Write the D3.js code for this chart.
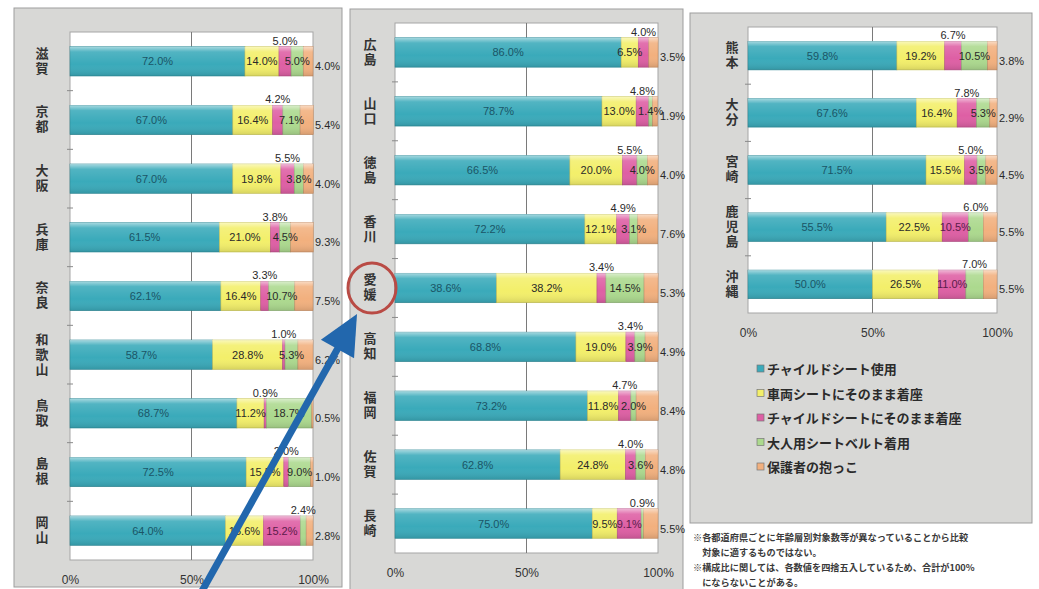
<!DOCTYPE html>
<html>
<head>
<meta charset="utf-8">
<script src="https://cdn.jsdelivr.net/npm/d3@7"></script>
<style>
 body { margin: 0; background: #ffffff; }
 svg { display: block; }
</style>
</head>
<body>
<div id="chart"></div>
<script>
// series (legend order = stack order)
var seriesNames = ["チャイルドシート使用", "車両シートにそのまま着座", "チャイルドシートにそのまま着座", "大人用シートベルト着用", "保護者の抱っこ"];
var seriesColors = ["#3aaaba", "#f3ef6a", "#de5fa4", "#acd98e", "#f2b07e"];

// left panel
var prefsA = ["滋賀", "京都", "大阪", "兵庫", "奈良", "和歌山", "鳥取", "島根", "岡山"];
var valuesA = [
 [72.0, 67.0, 67.0, 61.5, 62.1, 58.7, 68.7, 72.5, 64.0],
 [14.0, 16.4, 19.8, 21.0, 16.4, 28.8, 11.2, 15.5, 15.6],
 [5.0, 4.2, 5.5, 3.8, 3.3, 1.0, 0.9, 2.0, 15.2],
 [5.0, 7.1, 3.8, 4.5, 10.7, 5.3, 18.7, 9.0, 2.4],
 [4.0, 5.4, 4.0, 9.3, 7.5, 6.2, 0.5, 1.0, 2.8]
];

// middle panel
var prefsB = ["広島", "山口", "徳島", "香川", "愛媛", "高知", "福岡", "佐賀", "長崎"];
var valuesB = [
 [86.0, 78.7, 66.5, 72.2, 38.6, 68.8, 73.2, 62.8, 75.0],
 [6.5, 13.0, 20.0, 12.1, 38.2, 19.0, 11.8, 24.8, 9.5],
 [4.0, 4.8, 5.5, 4.9, 3.4, 3.4, 4.7, 4.0, 9.1],
 [0.0, 1.4, 4.0, 3.1, 14.5, 3.9, 2.0, 3.6, 0.9],
 [3.5, 1.9, 4.0, 7.6, 5.3, 4.9, 8.4, 4.8, 5.5]
];

// right panel
var prefsC = ["熊本", "大分", "宮崎", "鹿児島", "沖縄"];
var valuesC = [
 [59.8, 67.6, 71.5, 55.5, 50.0],
 [19.2, 16.4, 15.5, 22.5, 26.5],
 [6.7, 7.8, 5.0, 10.5, 11.0],
 [10.5, 5.3, 3.5, 6.0, 7.0],
 [3.8, 2.9, 4.5, 5.5, 5.5]
];

var tickValues = [0, 50, 100];
var tickLabels = ["0%", "50%", "100%"];

var footnotes = [
 "※各都道府県ごとに年齢層別対象数等が異なっていることから比較",
 "　対象に適するものではない。",
 "※構成比に関しては、各数値を四捨五入しているため、合計が100%",
 "　にならないことがある。"
];

var width = 1039, height = 589;
var numFont = "'Liberation Sans', Arial, sans-serif";
var jpFont = "'Noto Sans CJK JP', sans-serif";

var svg = d3.select("#chart").append("svg").attr("width", width).attr("height", height);

var defs = svg.append("defs");
var gloss = defs.append("linearGradient").attr("id", "gloss").attr("x1", 0).attr("y1", 0).attr("x2", 0).attr("y2", 1);
gloss.append("stop").attr("offset", "0").attr("stop-color", "#fff").attr("stop-opacity", 0.55);
gloss.append("stop").attr("offset", "0.18").attr("stop-color", "#fff").attr("stop-opacity", 0.12);
gloss.append("stop").attr("offset", "0.6").attr("stop-color", "#fff").attr("stop-opacity", 0);
gloss.append("stop").attr("offset", "1").attr("stop-color", "#000").attr("stop-opacity", 0.12);

//Panel layouts (pixel boxes of the scanned page).
var panels = [
 { prefs: prefsA, values: valuesA, box: [14, 8, 328, 579], plot: [70, 313, 32, 560], labelX: 42 },
 { prefs: prefsB, values: valuesB, box: [350, 9, 333, 600], plot: [395, 658, 23, 553], labelX: 370 },
 { prefs: prefsC, values: valuesC, box: [690, 13, 342, 510], plot: [748, 997, 27, 313], labelX: 732 }
];

panels.forEach(function(p, pi)
{
 var g = svg.append("g");

 g.append("rect").attr("x", p.box[0]).attr("y", p.box[1]).attr("width", p.box[2]).attr("height", p.box[3])
  .attr("fill", "#d8d8d6").attr("stroke", "#9d9d9d").attr("stroke-width", 1);

 var x = d3.scaleLinear().domain([0, 100]).range([p.plot[0], p.plot[1]]);
 var y = d3.scaleBand().domain(p.prefs).range([p.plot[2], p.plot[3]]).paddingInner(0.5).paddingOuter(0.25);
 p.y = y;

 //White plot area.
 g.append("rect").attr("x", x(0)).attr("y", p.plot[2]).attr("width", x(100) - x(0)).attr("height", p.plot[3] - p.plot[2])
  .attr("fill", "#ffffff").attr("stroke", "#a5a5a5");

 //50% grid line.
 g.append("line").attr("x1", x(50)).attr("x2", x(50)).attr("y1", p.plot[2]).attr("y2", p.plot[3])
  .attr("stroke", "#7a7a7a").attr("stroke-width", 1);

 //Small ticks between rows.
 var step = y.step();
 d3.range(1, p.prefs.length).forEach(function(i)
 {
  var ty = p.plot[2] + i * step;
  g.append("line").attr("x1", x(0) - 3).attr("x2", x(0) + 3).attr("y1", ty).attr("y2", ty)
   .attr("stroke", "#8a8a8a");
 });

 //Build rows of stacked segments.
 var rows = p.prefs.map(function(name, i)
 {
  var acc = 0;
  var segs = p.values.map(function(vals, s)
  {
   var seg = { s: s, v: vals[i], x0: acc, x1: acc + vals[i] };
   acc += vals[i];
   return seg;
  });
  return { name: name, segs: segs };
 });

 var rowG = g.selectAll("g.row").data(rows).enter().append("g").attr("class", "row");

 rowG.selectAll("rect.seg").data(function(d) { return d.segs; }).enter().append("rect")
  .attr("class", "seg")
  .attr("x", function(d) { return x(d.x0); })
  .attr("y", function(d, i, n) { return y(d3.select(n[i].parentNode).datum().name); })
  .attr("width", function(d) { return Math.max(0, x(d.x1) - x(d.x0)); })
  .attr("height", y.bandwidth())
  .attr("fill", function(d) { return seriesColors[d.s]; })
  .attr("stroke", function(d) { return d.v > 0 ? d3.color(seriesColors[d.s]).darker(0.6) : "none"; })
  .attr("stroke-width", 0.6);

 //Gloss overlay over whole bar.
 rowG.append("rect")
  .attr("x", function(d) { return x(0); })
  .attr("y", function(d) { return y(d.name); })
  .attr("width", function(d) { return x(d3.sum(d.segs, function(s) { return s.v; })) - x(0); })
  .attr("height", y.bandwidth())
  .attr("fill", "url(#gloss)");

 //Value labels.
 rowG.each(function(d)
 {
  var r = d3.select(this);
  var top = y(d.name), mid = top + y.bandwidth() / 2;
  var pinkBig = d.segs[2].v >= 9;
  d.segs.forEach(function(seg)
  {
   if (seg.v <= 0) return;
   var cx = x((seg.x0 + seg.x1) / 2), ty = mid + 4, anchor = "middle", tx = cx, col = "#2a2a2a";
   if (seg.s === 0) col = "#1b5566";
   if (seg.s === 2 && !pinkBig) ty = top - 2;
   if (seg.s === 2 && pinkBig) col = "#5a1c4a";
   if (seg.s === 3 && pinkBig) ty = top - 2;
   if (seg.s === 4) { tx = x(100) + 2; ty = mid + 9; anchor = "start"; }
   r.append("text").attr("x", tx).attr("y", ty).attr("text-anchor", anchor)
    .attr("font-family", numFont).attr("font-size", 11).attr("fill", col)
    .text(seg.v.toFixed(1) + "%");
  });
 });

 //Vertical prefecture names.
 rowG.append("text")
  .attr("x", p.labelX)
  .attr("y", function(d) { return y(d.name) + y.bandwidth() / 2; })
  .attr("writing-mode", "vertical-rl")
  .style("text-orientation", "upright")
  .attr("text-anchor", "middle")
  .attr("letter-spacing", 2)
  .attr("font-family", jpFont).attr("font-size", 13).attr("font-weight", "bold").attr("fill", "#333")
  .text(function(d) { return d.name; });

 //Bottom axis labels.
 var axis = d3.axisBottom(x).tickValues(tickValues).tickFormat(function(d, i) { return tickLabels[i]; })
  .tickSize(0).tickPadding(15);
 var ax = g.append("g").attr("transform", "translate(0," + p.plot[3] + ")").call(axis);
 ax.select(".domain").remove();
 ax.selectAll("text").attr("font-family", numFont).attr("font-size", 12).attr("fill", "#333");
});

//Legend in right panel.
var legend = svg.append("g").selectAll("g").data(seriesNames).enter().append("g")
 .attr("transform", function(d, i) { return "translate(757," + (369 + i * 24.5) + ")"; });
legend.append("rect").attr("x", 0).attr("y", -4).attr("width", 7).attr("height", 7)
 .attr("fill", function(d, i) { return seriesColors[i]; }).attr("stroke", "#777").attr("stroke-width", 0.7);
legend.append("text").attr("x", 10).attr("y", 5)
 .attr("font-family", jpFont).attr("font-size", 13).attr("font-weight", "bold").attr("fill", "#2b2b2b")
 .text(function(d) { return d; });

//Footnotes.
svg.append("g").selectAll("text").data(footnotes).enter().append("text")
 .attr("x", 693).attr("y", function(d, i) { return 541 + i * 15; })
 .attr("font-family", jpFont).attr("font-size", 9.2).attr("font-weight", "bold").attr("fill", "#3a3a3a")
 .text(function(d) { return d; });

//Red circle around 愛媛 and the blue arrow.
var pB = panels[1];
var cx = pB.labelX + 2, cy = pB.y("愛媛") + pB.y.bandwidth() / 2;
svg.append("ellipse").attr("cx", cx).attr("cy", cy).attr("rx", 24).attr("ry", 25)
 .attr("fill", "none").attr("stroke", "#b94b45").attr("stroke-width", 3);

var tip = [cx - 15, cy + 26], tail = [197, 600];
var dx = tip[0] - tail[0], dy = tip[1] - tail[1], len = Math.sqrt(dx * dx + dy * dy);
var ux = dx / len, uy = dy / len, headLen = 40, headHalf = 19;
var bx = tip[0] - ux * headLen, by = tip[1] - uy * headLen;
svg.append("line").attr("x1", tail[0]).attr("y1", tail[1]).attr("x2", bx + ux * 4).attr("y2", by + uy * 4)
 .attr("stroke", "#2267ad").attr("stroke-width", 7);
svg.append("polygon")
 .attr("points", [tip, [bx - uy * headHalf, by + ux * headHalf], [bx + uy * headHalf, by - ux * headHalf]].map(function(pt) { return pt.join(","); }).join(" "))
 .attr("fill", "#2267ad");
</script>
</body>
</html>
